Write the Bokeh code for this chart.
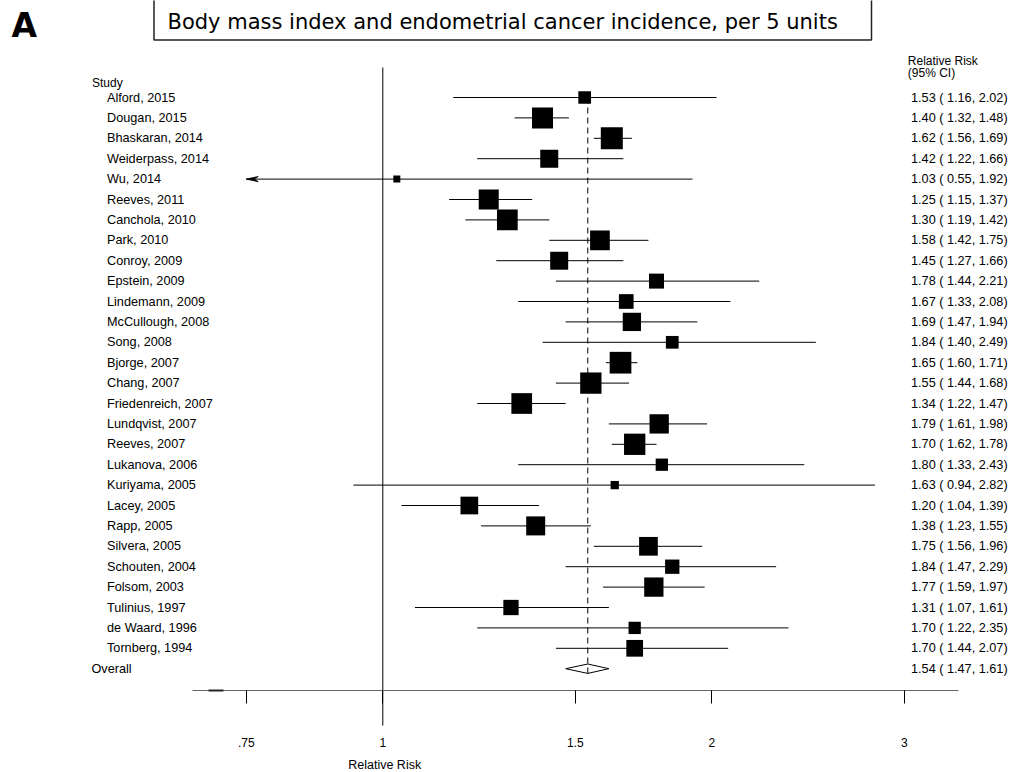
import math
from bokeh.plotting import figure
from bokeh.models import ColumnDataSource, Range1d, FixedTicker
from bokeh.core.properties import value
from bokeh.embed import file_html
from bokeh.resources import INLINE

# ---------------- data ----------------
studies = ["Alford, 2015", "Dougan, 2015", "Bhaskaran, 2014", "Weiderpass, 2014", "Wu, 2014",
           "Reeves, 2011", "Canchola, 2010", "Park, 2010", "Conroy, 2009", "Epstein, 2009",
           "Lindemann, 2009", "McCullough, 2008", "Song, 2008", "Bjorge, 2007", "Chang, 2007",
           "Friedenreich, 2007", "Lundqvist, 2007", "Reeves, 2007", "Lukanova, 2006", "Kuriyama, 2005",
           "Lacey, 2005", "Rapp, 2005", "Silvera, 2005", "Schouten, 2004", "Folsom, 2003",
           "Tulinius, 1997", "de Waard, 1996", "Tornberg, 1994"]
rr = [1.53, 1.40, 1.62, 1.42, 1.03, 1.25, 1.30, 1.58, 1.45, 1.78, 1.67, 1.69, 1.84, 1.65, 1.55,
      1.34, 1.79, 1.70, 1.80, 1.63, 1.20, 1.38, 1.75, 1.84, 1.77, 1.31, 1.70, 1.70]
ci_low = [1.16, 1.32, 1.56, 1.22, 0.55, 1.15, 1.19, 1.42, 1.27, 1.44, 1.33, 1.47, 1.40, 1.60, 1.44,
          1.22, 1.61, 1.62, 1.33, 0.94, 1.04, 1.23, 1.56, 1.47, 1.59, 1.07, 1.22, 1.44]
ci_high = [2.02, 1.48, 1.69, 1.66, 1.92, 1.37, 1.42, 1.75, 1.66, 2.21, 2.08, 1.94, 2.49, 1.71, 1.68,
           1.47, 1.98, 1.78, 2.43, 2.82, 1.39, 1.55, 1.96, 2.29, 1.97, 1.61, 2.35, 2.07]
# box size (study weight) in pixels
box_px = [12.7, 21, 22, 18, 7, 20, 20.7, 19.7, 18, 15, 14.7, 18.3, 12.7, 21.7, 21.3,
          20.7, 19.3, 21.3, 12.3, 8.3, 17.7, 19, 18.7, 14.3, 19.3, 15.3, 12.3, 16.7]
overall_label = "Overall"
overall_rr = 1.54
overall_low = 1.47
overall_high = 1.61
tick_values = [0.75, 1, 1.5, 2, 3]
tick_labels = [".75", "1", "1.5", "2", "3"]
title_text = "Body mass index and endometrial cancer incidence, per 5 units"
panel_letter = "A"
x_title = "Relative Risk"

# ---------------- layout helpers (pixel -> data) ----------------
W, H = 1013, 772
AXIS_Y = 690
X0, K = 382.3, 474.7     # pixel of RR=1, pixels per ln unit
Y0, DY = 97.0, 20.4      # pixel of first row, row spacing


def px2x(px):
    return math.exp((px - X0) / K)


def py2y(py):
    return (py - Y0) / DY


n = len(studies)
rows = list(range(n))
overall_row = n
clip_lo = tick_values[0]

FONT = value("Liberation Sans")

p = figure(width=W, height=H, x_axis_type="log",
           x_range=Range1d(px2x(0), px2x(W)),
           y_range=Range1d(py2y(H), py2y(0)),
           y_axis_location=None, toolbar_location=None, output_backend="svg",
           min_border_left=0, min_border_right=0, min_border_top=0,
           min_border_bottom=0, outline_line_color=None)
p.grid.visible = False
p.background_fill_color = "white"
p.border_fill_color = "white"

# x axis, fixed inside the frame
ax = p.xaxis[0]
ax.fixed_location = py2y(AXIS_Y)
ax.ticker = FixedTicker(ticks=tick_values)
ax.major_label_overrides = {v: l for v, l in zip(tick_values, tick_labels)}
ax.bounds = (px2x(192), px2x(958))
ax.major_tick_out = 13
ax.major_tick_in = 0
ax.minor_tick_out = 0
ax.minor_tick_in = 0
ax.major_tick_line_color = "black"
ax.major_tick_line_width = 1
ax.axis_line_color = "#666666"
ax.axis_line_width = 1.2
ax.major_label_standoff = 34
ax.major_label_text_font = "Liberation Sans"
ax.major_label_text_font_size = "12px"
ax.major_label_text_color = "black"

# reference line at RR = 1 (runs through the axis)
p.segment(x0=[1], y0=[py2y(67)], x1=[1], y1=[py2y(725)], line_color="black", line_width=1)
# short dark stub at the left end of the axis line
p.segment(x0=[px2x(208)], y0=[py2y(AXIS_Y)], x1=[px2x(223)], y1=[py2y(AXIS_Y)],
          line_color="#222222", line_width=2, level="overlay")

# confidence intervals
lo_draw = [max(l, clip_lo) for l in ci_low]
src = ColumnDataSource(dict(study=studies, rr=rr, lo=lo_draw, hi=ci_high, row=rows, size=box_px))
p.segment(x0="lo", y0="row", x1="hi", y1="row", source=src, line_color="black", line_width=1)

# arrow heads for truncated intervals
ah_xs, ah_ys = [], []
for r, l in zip(rows, ci_low):
    if l < clip_lo:
        ah_xs.append([clip_lo, clip_lo * math.exp(12 / K), clip_lo * math.exp(8 / K), clip_lo * math.exp(12 / K)])
        ah_ys.append([r, r - 2.6 / DY, r, r + 2.6 / DY])
if ah_xs:
    p.patches(xs=ah_xs, ys=ah_ys, fill_color="black", line_color="black", line_width=0.8)

# overall diamond
h = 4.7 / DY
p.patch(x=[overall_low, overall_rr, overall_high, overall_rr],
        y=[overall_row, overall_row - h, overall_row, overall_row + h],
        fill_color="white", line_color="black", line_width=1)

# dashed line at pooled estimate
p.segment(x0=[overall_rr], y0=[0], x1=[overall_rr], y1=[overall_row + 0.25],
          line_color="black", line_width=1, line_dash="6 4")

# study boxes
p.scatter(x="rr", y="row", size="size", marker="square", source=src,
          fill_color="black", line_color=None)

# left labels
p.text(x=px2x(106.5), y=rows, text=studies,
       text_font=FONT, text_font_size="12.7px", text_color="black",
       text_align="left", text_baseline="middle")
p.text(x=[px2x(91.5)], y=[py2y(82)], text=["Study"], text_font=FONT, text_font_size="12px",
       text_color="black", text_align="left", text_baseline="middle")
p.text(x=[px2x(91)], y=[overall_row], text=[overall_label], text_font=FONT,
       text_font_size="12.7px", text_color="black", text_align="left", text_baseline="middle")

# right column
right_txt = ["%.2f ( %.2f, %.2f)" % (a, b, c) for a, b, c in zip(rr, ci_low, ci_high)]
right_txt.append("%.2f ( %.2f, %.2f)" % (overall_rr, overall_low, overall_high))
p.text(x=px2x(910.5), y=rows + [overall_row], text=right_txt,
       text_font=FONT, text_font_size="12.7px", text_color="black",
       text_align="left", text_baseline="middle")
p.text(x=[px2x(907.3), px2x(907.3)], y=[py2y(60.3), py2y(72.5)], text=["Relative Risk", "(95% CI)"],
       text_font=FONT, text_font_size="12px", text_color="black",
       text_align="left", text_baseline="middle")

# title box and text
p.quad(left=[px2x(153.5)], right=[px2x(871)], top=[py2y(-5)], bottom=[py2y(39.5)],
       fill_color=None, line_color="#222222", line_width=1.5)
p.text(x=[px2x(167)], y=[py2y(21)], text=[title_text], text_font=value("DejaVu Sans"),
       text_font_size="21px", text_color="black", text_align="left", text_baseline="middle")
p.text(x=[px2x(11)], y=[py2y(25)], text=[panel_letter], text_font=value("DejaVu Sans"),
       text_font_style="bold", text_font_size="33px", text_color="black",
       text_align="left", text_baseline="middle")

# axis title (centred under RR = 1 as in the reference)
p.text(x=[px2x(384.2)], y=[py2y(764.5)], text=[x_title], text_font=FONT,
       text_font_size="12.5px", text_color="black", text_align="center", text_baseline="middle")

open("out.html", "w").write(file_html(p, INLINE))
